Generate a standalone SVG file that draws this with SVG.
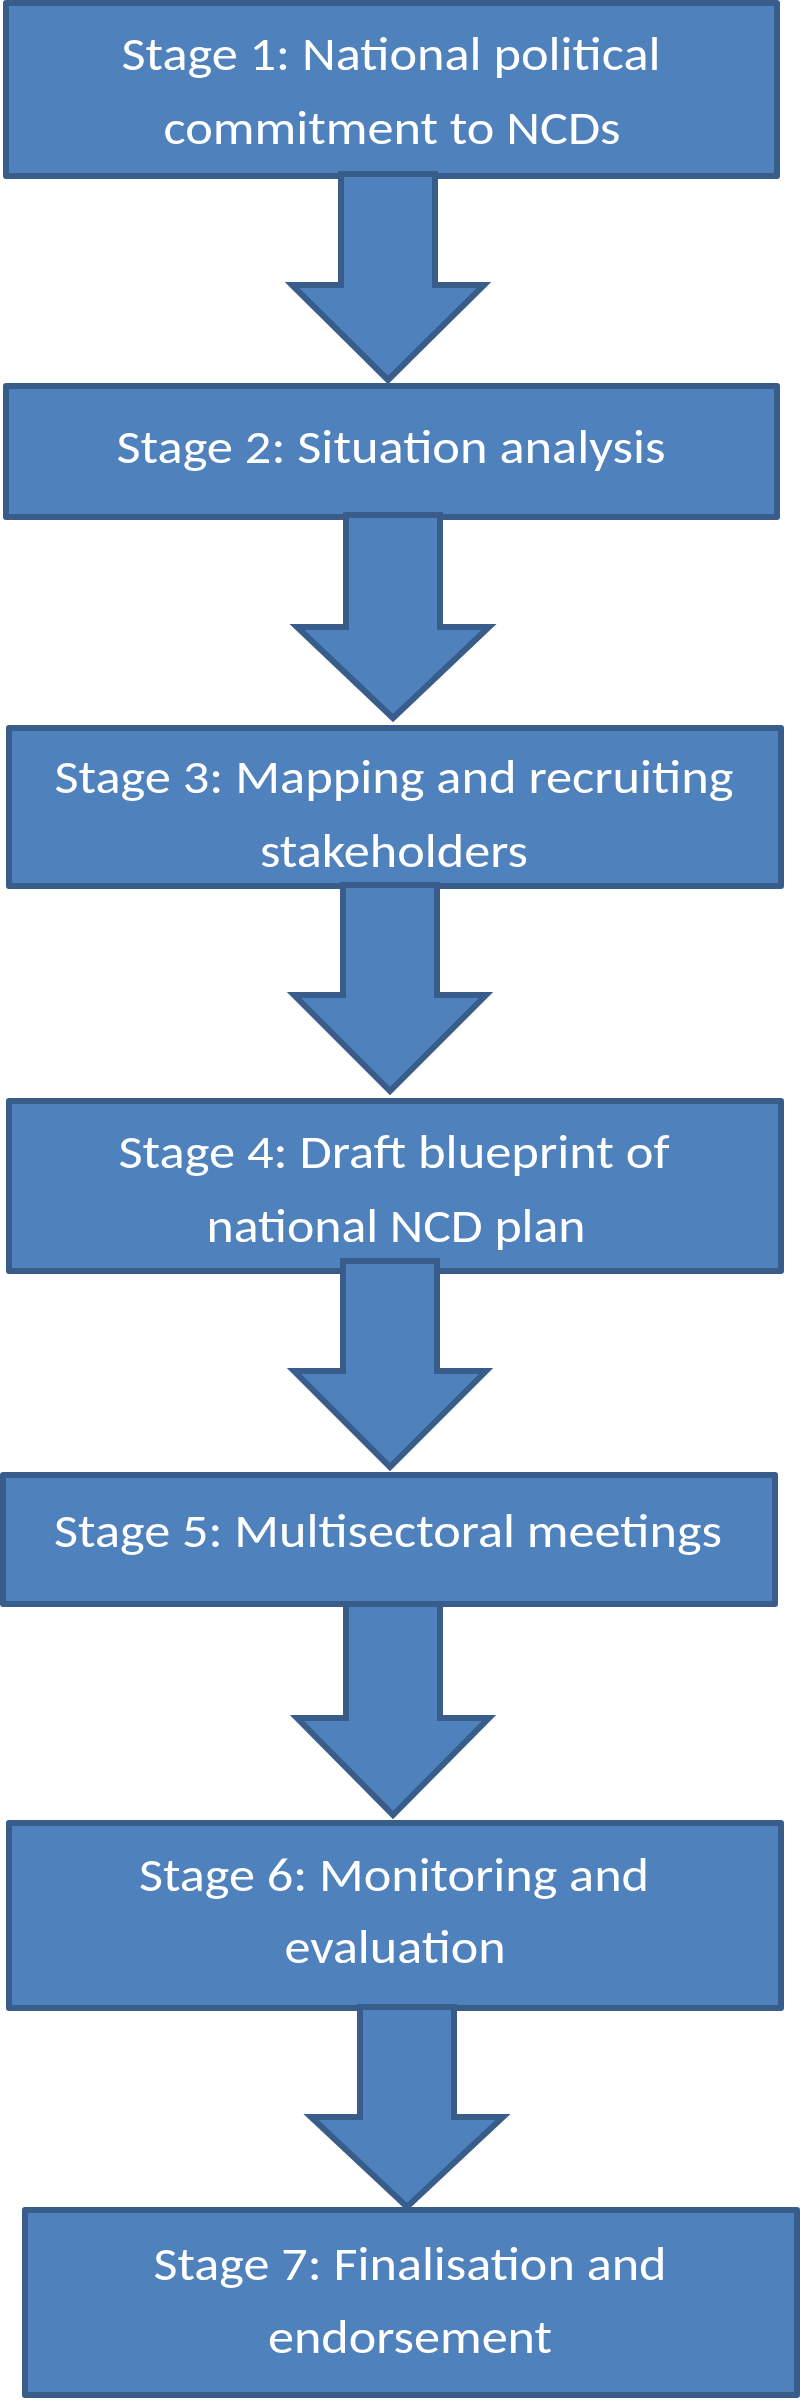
<svg xmlns="http://www.w3.org/2000/svg" width="800" height="2400" viewBox="0 0 800 2400">
  <style>
    .box { fill: #4F81BD; stroke: #385D8A; stroke-width: 6; stroke-linejoin: round; }
    .arrow { fill: #4F81BD; stroke: #385D8A; stroke-width: 6; stroke-linejoin: miter; }
    .lbl { fill: #FFFFFF; font-family: Carlito, Lato, "Open Sans", sans-serif; font-size: 47px; text-anchor: middle; }
  </style>
  <rect width="800" height="2400" fill="#FFFFFF"/>

  <g id="stage1">
    <rect class="box" x="6" y="3" width="771" height="173"/>
    <text class="lbl" x="391" y="70" textLength="539" lengthAdjust="spacingAndGlyphs">Stage 1: National political</text>
    <text class="lbl" x="392" y="144" textLength="457" lengthAdjust="spacingAndGlyphs">commitment to NCDs</text>
  </g>
  <g id="stage2">
    <rect class="box" x="6" y="386" width="771" height="131"/>
    <text class="lbl" x="391" y="463" textLength="549" lengthAdjust="spacingAndGlyphs">Stage 2: Situation analysis</text>
  </g>
  <g id="stage3">
    <rect class="box" x="9" y="728" width="772" height="158"/>
    <text class="lbl" x="394" y="793" textLength="679" lengthAdjust="spacingAndGlyphs">Stage 3: Mapping and recruiting</text>
    <text class="lbl" x="394" y="867" textLength="268" lengthAdjust="spacingAndGlyphs">stakeholders</text>
  </g>
  <g id="stage4">
    <rect class="box" x="9" y="1101" width="772" height="170"/>
    <text class="lbl" x="394" y="1168" textLength="551" lengthAdjust="spacingAndGlyphs">Stage 4: Draft blueprint of</text>
    <text class="lbl" x="396" y="1242" textLength="379" lengthAdjust="spacingAndGlyphs">national NCD plan</text>
  </g>
  <g id="stage5">
    <rect class="box" x="3" y="1475" width="772" height="129"/>
    <text class="lbl" x="388" y="1547" textLength="668" lengthAdjust="spacingAndGlyphs">Stage 5: Multisectoral meetings</text>
  </g>
  <g id="stage6">
    <rect class="box" x="9" y="1823" width="772" height="185"/>
    <text class="lbl" x="394" y="1891" textLength="510" lengthAdjust="spacingAndGlyphs">Stage 6: Monitoring and</text>
    <text class="lbl" x="395" y="1963" textLength="221" lengthAdjust="spacingAndGlyphs">evaluation</text>
  </g>
  <g id="stage7">
    <rect class="box" x="25" y="2210" width="772" height="185"/>
    <text class="lbl" x="410" y="2280" textLength="513" lengthAdjust="spacingAndGlyphs">Stage 7: Finalisation and</text>
    <text class="lbl" x="410" y="2353" textLength="284" lengthAdjust="spacingAndGlyphs">endorsement</text>
  </g>

  <g id="connectors">
    <path class="arrow" d="M341,174 H435 V285 H484 L388,380 L292,285 H341 Z"/>
    <path class="arrow" d="M346,515 H440 V627 H489 L393,718 L297,627 H346 Z"/>
    <path class="arrow" d="M343,885 H437 V995 H486 L390,1091 L294,995 H343 Z"/>
    <path class="arrow" d="M343,1261 H437 V1371 H486 L390,1467 L294,1371 H343 Z"/>
    <path class="arrow" d="M346,1604 H440 V1718 H489 L393,1815 L297,1718 H346 Z"/>
    <path class="arrow" d="M360,2007 H454 V2117 H503 L407,2207 L311,2117 H360 Z"/>
  </g>
</svg>
